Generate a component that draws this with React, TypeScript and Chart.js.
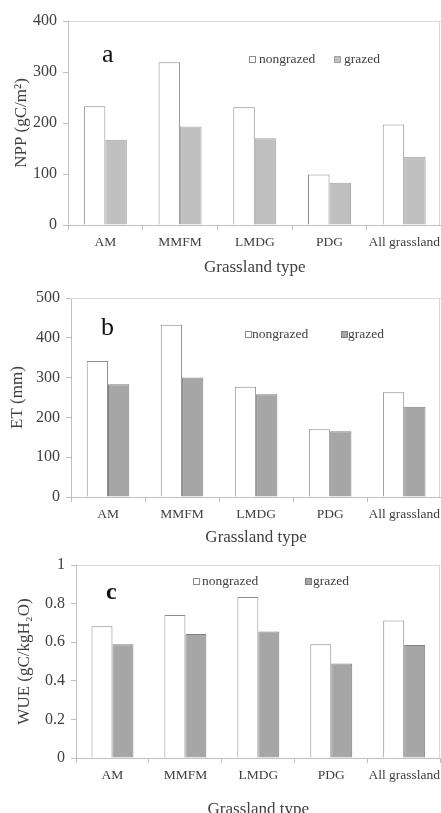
import React, { useEffect, useRef } from "react";
import { Chart, registerables } from "chart.js";

Chart.register(...registerables);

// ---- data ----
const categories = ["AM", "MMFM", "LMDG", "PDG", "All grassland"];
const seriesNames = ["nongrazed", "grazed"];

const nppNongrazed = [233, 319, 231, 99, 197];
const nppGrazed = [167, 193, 170, 83, 134];

const etNongrazed = [342, 433, 277, 170, 263];
const etGrazed = [283, 300, 258, 165, 227];

const wueNongrazed = [0.682, 0.741, 0.834, 0.589, 0.713];
const wueGrazed = [0.589, 0.642, 0.655, 0.49, 0.585];

const nppAxis = { min: 0, max: 400, step: 100 };
const etAxis = { min: 0, max: 500, step: 100 };
const wueAxis = { min: 0, max: 1, step: 0.2 };

const xTitle = "Grassland type";

// ---- styling ----
const SERIF = "'Liberation Serif', 'Times New Roman', 'DejaVu Serif', serif";
const TEXT = "#404040";
const AXIS = "#bfbfbf";
const FRAME = "#d9d9d9";
const CANVAS_W = 444;

const decorPlugin = {
  id: "panelDecor",
  afterDraw(chart: any, _args: any, opts: any) {
    const ctx = chart.ctx as CanvasRenderingContext2D;
    const { left, top, right, bottom } = chart.chartArea;
    ctx.save();
    ctx.strokeStyle = FRAME;
    ctx.lineWidth = 1;
    ctx.beginPath();
    ctx.moveTo(left, Math.round(top) + 0.5);
    ctx.lineTo(right, Math.round(top) + 0.5);
    ctx.moveTo(Math.min(440, Math.round(right)) - 0.5, top);
    ctx.lineTo(Math.min(440, Math.round(right)) - 0.5, bottom);
    ctx.stroke();

    ctx.fillStyle = "#111";
    ctx.font = opts.letterFont;
    ctx.textBaseline = "middle";
    ctx.textAlign = "left";
    ctx.fillText(opts.letter, opts.letterX, opts.letterY);

    ctx.font = `13.5px ${SERIF}`;
    chart.data.datasets.forEach((ds: any, i: number) => {
      const pos = opts.legend[i];
      const s = 7;
      const bx = pos.boxX;
      const by = Math.round(pos.y - s / 2);
      ctx.fillStyle = ds.backgroundColor;
      ctx.fillRect(bx, by, s, s);
      ctx.strokeStyle = ds.borderColor;
      ctx.strokeRect(bx + 0.5, by + 0.5, s - 1, s - 1);
      ctx.fillStyle = TEXT;
      ctx.fillText(ds.label, pos.textX, pos.y);
    });
    ctx.restore();
  },
};

type PanelProps = {
  top: number;
  height: number;
  padTop: number;
  yWidth: number;
  xHeight: number;
  xTitlePadBottom: number;
  yTitle: string;
  yTitlePad: number;
  axis: { min: number; max: number; step: number };
  nongrazed: number[];
  grazed: number[];
  grazedFill: string;
  grazedBorder: string;
  letter: string;
  letterFont: string;
  letterX: number;
  letterY: number;
  legend: { boxX: number; textX: number; y: number }[];
};

function Panel(p: PanelProps) {
  const ref = useRef<HTMLCanvasElement | null>(null);
  useEffect(() => {
    if (!ref.current) return;
    const chart = new Chart(ref.current, {
      type: "bar",
      data: {
        labels: categories,
        datasets: [
          {
            label: seriesNames[0],
            data: p.nongrazed,
            backgroundColor: "#ffffff",
            borderColor: "#8c8c8c",
            borderWidth: 1,
            categoryPercentage: 0.575,
            barPercentage: 1,
          },
          {
            label: seriesNames[1],
            data: p.grazed,
            backgroundColor: p.grazedFill,
            borderColor: p.grazedBorder,
            borderWidth: 1,
            categoryPercentage: 0.575,
            barPercentage: 1,
          },
        ],
      },
      options: {
        responsive: false,
        animation: false,
        layout: { padding: { top: p.padTop, left: 0, right: 0, bottom: 0 } },
        plugins: {
          legend: { display: false },
          tooltip: { enabled: false },
          panelDecor: {
            letter: p.letter,
            letterFont: p.letterFont,
            letterX: p.letterX,
            letterY: p.letterY,
            legend: p.legend,
          },
        } as any,
        scales: {
          x: {
            offset: true,
            grid: {
              offset: true,
              drawOnChartArea: false,
              drawTicks: true,
              tickLength: 5,
              color: AXIS,
            },
            border: { display: true, color: AXIS },
            ticks: {
              color: TEXT,
              font: { family: SERIF, size: 13.5 },
              padding: 4,
              maxRotation: 0,
              autoSkip: false,
            },
            title: {
              display: true,
              text: xTitle,
              color: TEXT,
              font: { family: SERIF, size: 17, lineHeight: 1.2 },
              padding: { top: 0, bottom: p.xTitlePadBottom },
            },
            afterFit: (s: any) => {
              s.height = p.xHeight;
            },
          },
          y: {
            min: p.axis.min,
            max: p.axis.max,
            grid: {
              drawOnChartArea: false,
              drawTicks: true,
              tickLength: 5,
              color: AXIS,
            },
            border: { display: true, color: AXIS },
            ticks: {
              stepSize: p.axis.step,
              color: TEXT,
              font: { family: SERIF, size: 16 },
              padding: 6,
              callback: (v: any) => String(parseFloat(Number(v).toFixed(2))),
            },
            title: {
              display: true,
              text: p.yTitle,
              color: TEXT,
              font: { family: SERIF, size: 17, lineHeight: 1.2 },
              padding: { top: p.yTitlePad, bottom: 0 },
            },
            afterFit: (s: any) => {
              s.width = p.yWidth;
            },
          },
        },
      },
      plugins: [decorPlugin],
    });
    return () => chart.destroy();
  }, []);
  return (
    <canvas
      ref={ref}
      width={CANVAS_W}
      height={p.height}
      style={{ position: "absolute", left: 0, top: p.top, width: CANVAS_W, height: p.height }}
    />
  );
}

export default function App() {
  return (
    <div
      style={{
        position: "absolute",
        left: 0,
        top: 0,
        width: 441,
        height: 813,
        overflow: "hidden",
        background: "#ffffff",
      }}
    >
      <Panel
        top={0}
        height={280}
        padTop={21}
        yWidth={68}
        xHeight={55}
        xTitlePadBottom={1.8}
        yTitle="NPP (gC/m²)"
        yTitlePad={11.5}
        axis={nppAxis}
        nongrazed={nppNongrazed}
        grazed={nppGrazed}
        grazedFill="#c0c0c0"
        grazedBorder="#a3a3a3"
        letter="a"
        letterFont={`26px ${SERIF}`}
        letterX={102}
        letterY={55}
        legend={[
          { boxX: 249, textX: 259, y: 59 },
          { boxX: 334, textX: 344, y: 59 },
        ]}
      />
      <Panel
        top={270}
        height={280}
        padTop={28}
        yWidth={71}
        xHeight={53}
        xTitlePadBottom={1.8}
        yTitle="ET (mm)"
        yTitlePad={7.8}
        axis={etAxis}
        nongrazed={etNongrazed}
        grazed={etGrazed}
        grazedFill="#a6a6a6"
        grazedBorder="#7f7f7f"
        letter="b"
        letterFont={`26px ${SERIF}`}
        letterX={101}
        letterY={58}
        legend={[
          { boxX: 245, textX: 252, y: 64 },
          { boxX: 341, textX: 348, y: 64 },
        ]}
      />
      <Panel
        top={545}
        height={268}
        padTop={20}
        yWidth={76}
        xHeight={55}
        xTitlePadBottom={-7}
        yTitle="WUE (gC/kgH₂O)"
        yTitlePad={14.8}
        axis={wueAxis}
        nongrazed={wueNongrazed}
        grazed={wueGrazed}
        grazedFill="#a6a6a6"
        grazedBorder="#7f7f7f"
        letter="c"
        letterFont={`bold 24px ${SERIF}`}
        letterX={106}
        letterY={48}
        legend={[
          { boxX: 193, textX: 202, y: 36 },
          { boxX: 305, textX: 313, y: 36 },
        ]}
      />
    </div>
  );
}
